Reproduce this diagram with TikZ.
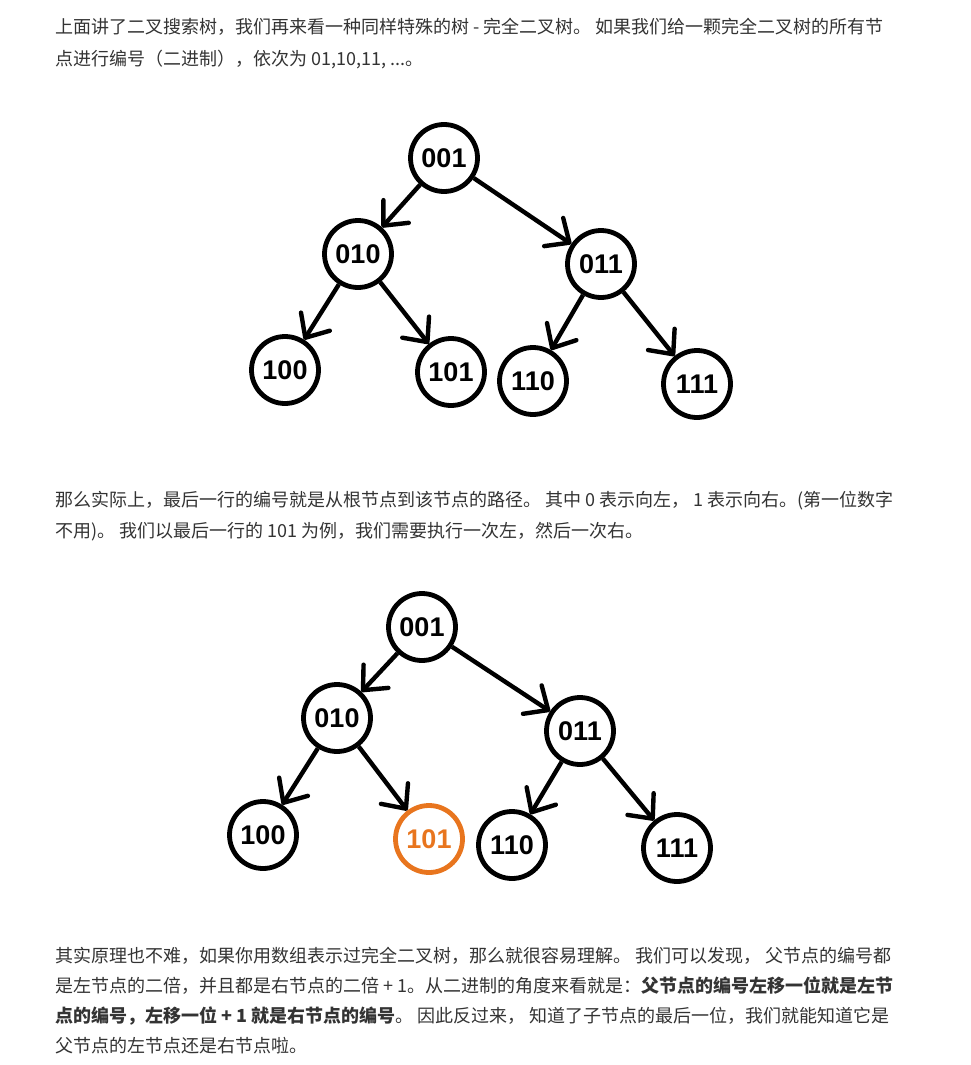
\documentclass[tikz,border=0pt]{standalone}
\usepackage{fontspec}
\setmainfont{Liberation Sans}
\newfontfamily\cjk{Noto Sans CJK SC}
\usetikzlibrary{arrows.meta}
\definecolor{txtgray}{HTML}{333333}
\definecolor{hlorange}{HTML}{E8751E}

\begin{document}
\begin{tikzpicture}[x=1pt, y=-1pt,
          txt/.style={anchor=west, inner sep=0pt, text=txtgray,
              font=\cjk\fontsize{18}{21}\selectfont},
          bit/.style={circle, draw, line width=4.8pt, minimum size=67pt,
              inner sep=0pt, font=\bfseries\fontsize{27}{27}\selectfont},
          hot/.style={bit, draw=hlorange, text=hlorange},
          link/.style={line width=4.4pt,
              -{Straight Barb[length=19pt,width=34pt,line width=4.4pt,round]}}
        ]
        \useasboundingbox (0,0) rectangle (970,1065);

        % first paragraph
        \node[txt] (p1a) at (55,27) {上面讲了二叉搜索树，我们再来看一种同样特殊的树 - 完全二叉树。 如果我们给一颗完全二叉树的所有节};
        \node[txt] (p1b) at (55,60) {点进行编号（二进制），依次为 01,10,11, ...。};

        % tree one
        \node[bit] (a001) at (444,158) {001};
        \node[bit] (a010) at (358,254) {010};
        \node[bit] (a011) at (601,264) {011};
        \node[bit] (a100) at (285,370) {100};
        \node[bit] (a101) at (451,372) {101};
        \node[bit] (a110) at (533,381) {110};
        \node[bit] (a111) at (697,384) {111};
        \draw[link] (a001) -- (a010);
        \draw[link] (a001) -- (a011);
        \draw[link] (a010) -- (a100);
        \draw[link] (a010) -- (a101);
        \draw[link] (a011) -- (a110);
        \draw[link] (a011) -- (a111);

        % second paragraph
        \node[txt] (p2a) at (55,501) {那么实际上，最后一行的编号就是从根节点到该节点的路径。 其中 0 表示向左， 1 表示向右。(第一位数字};
        \node[txt] (p2b) at (55,532) {不用)。 我们以最后一行的 101 为例，我们需要执行一次左，然后一次右。};

        % tree two, path to 101
        \node[bit] (b001) at (422,627) {001};
        \node[bit] (b010) at (337,718) {010};
        \node[bit] (b011) at (580,731) {011};
        \node[bit] (b100) at (263,835) {100};
        \node[hot] (b101) at (429,839) {101};
        \node[bit] (b110) at (512,845) {110};
        \node[bit] (b111) at (677,848) {111};
        \draw[link] (b001) -- (b010);
        \draw[link] (b001) -- (b011);
        \draw[link] (b010) -- (b100);
        \draw[link] (b010) -- (b101);
        \draw[link] (b011) -- (b110);
        \draw[link] (b011) -- (b111);

        % third paragraph
        \node[txt] (p3a) at (55,956) {其实原理也不难，如果你用数组表示过完全二叉树，那么就很容易理解。 我们可以发现， 父节点的编号都};
        \node[txt] (p3b) at (55,986) {是左节点的二倍，并且都是右节点的二倍 + 1。从二进制的角度来看就是：\textbf{父节点的编号左移一位就是左节}};
        \node[txt] (p3c) at (55,1016) {\textbf{点的编号，左移一位 + 1 就是右节点的编号}。 因此反过来， 知道了子节点的最后一位，我们就能知道它是};
        \node[txt] (p3d) at (55,1046) {父节点的左节点还是右节点啦。};
      \end{tikzpicture}
\end{document}
